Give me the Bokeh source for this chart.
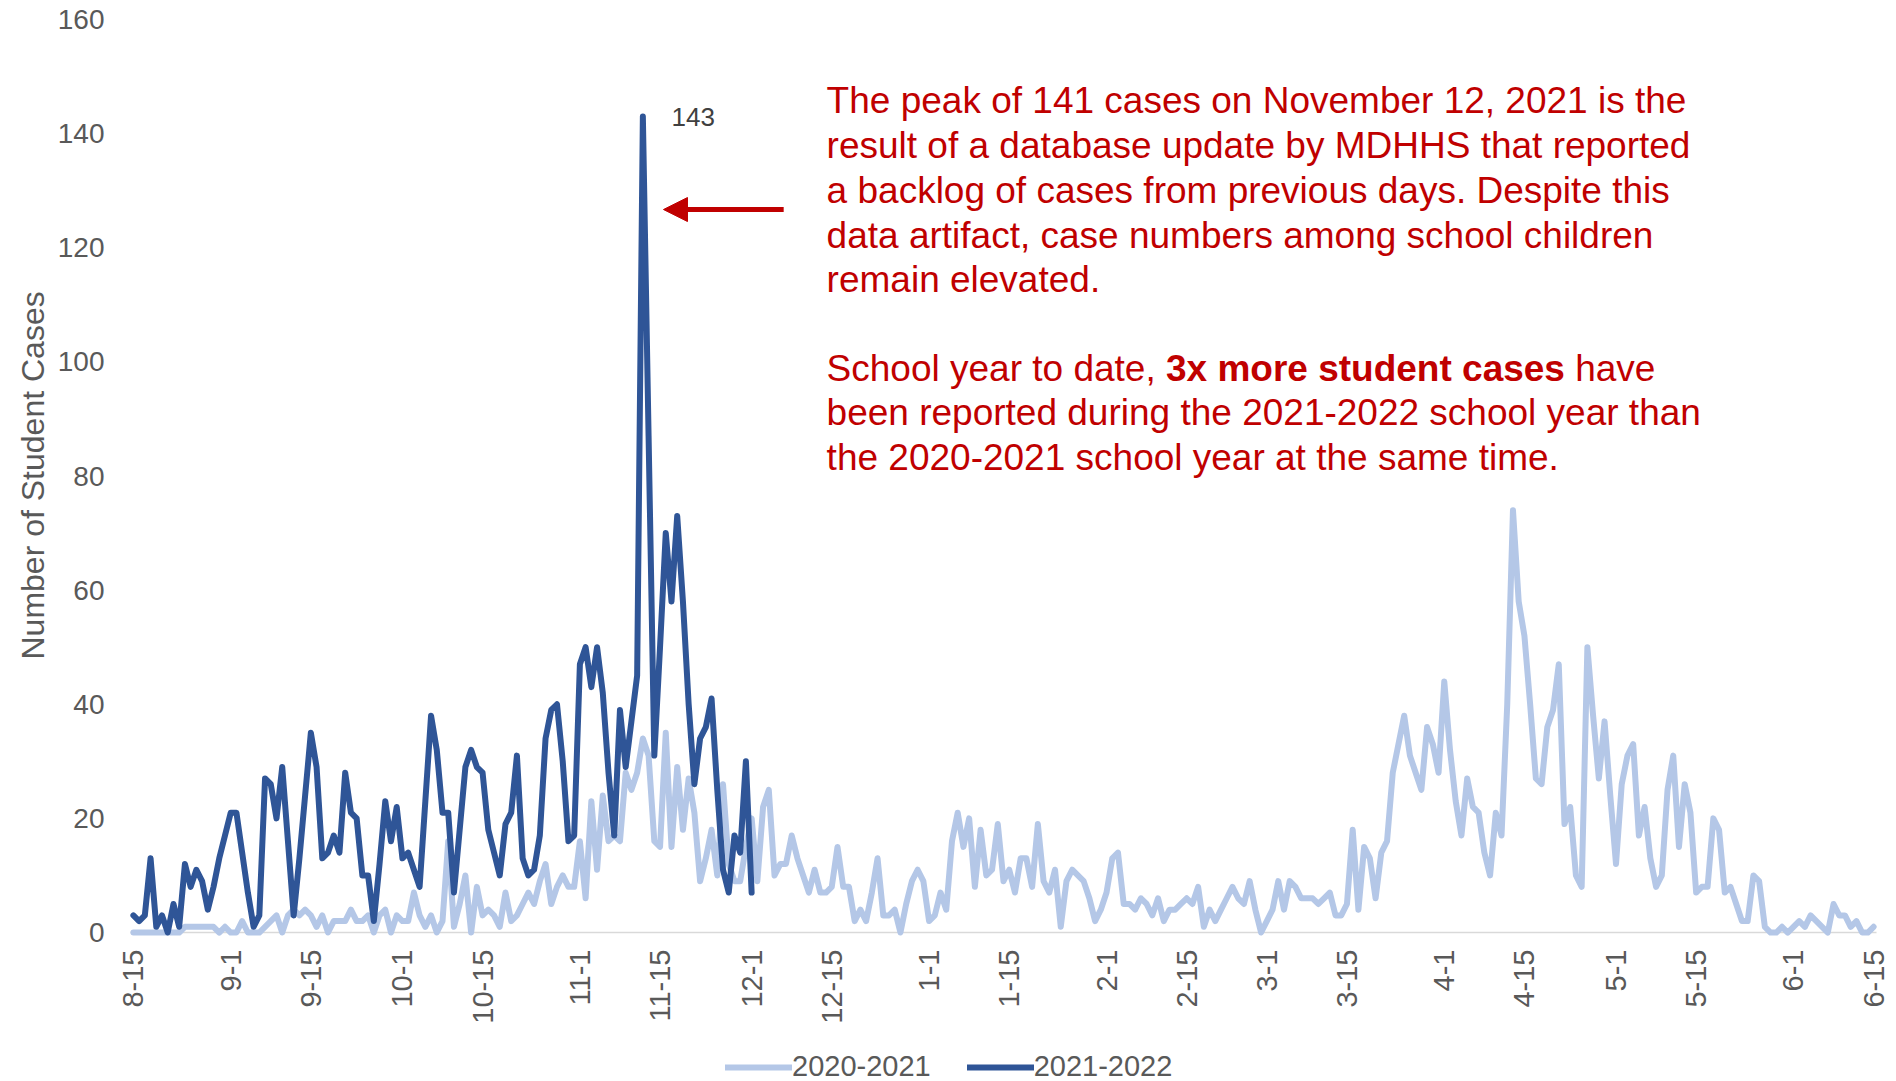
import math
from bokeh.plotting import figure
from bokeh.models import (Range1d, FixedTicker, Label, Arrow, NormalHead,
                          Legend, LegendItem, Title)
from bokeh.embed import file_html
from bokeh.resources import INLINE

# ---------------- data (daily student cases, day 0 = Aug 15) ----------------
cases_2020_21 = [
    0, 0, 0, 0, 0, 0, 0, 0, 0, 1,
    1, 1, 1, 1, 1, 0, 1, 0, 0, 2,
    0, 0, 0, 1, 2, 3, 0, 3, 4, 3,
    4, 3, 1, 3, 0, 2, 2, 2, 4, 2,
    2, 3, 0, 3, 4, 0, 3, 2, 2, 7,
    3, 1, 3, 0, 2, 16, 1, 5, 10, 0,
    8, 3, 4, 3, 1, 7, 2, 3, 5, 7,
    5, 9, 12, 5, 8, 10, 8, 8, 16, 6,
    23, 11, 24, 16, 17, 16, 28, 25, 28, 34,
    31, 16, 15, 35, 15, 29, 18, 27, 21, 9,
    13, 18, 10, 26, 12, 9, 9, 15, 20, 9,
    22, 25, 10, 12, 12, 17, 13, 10, 7, 11,
    7, 7, 8, 15, 8, 8, 2, 4, 2, 7,
    13, 3, 3, 4, 0, 5, 9, 11, 9, 2,
    3, 7, 4, 16, 21, 15, 20, 8, 18, 10,
    11, 19, 9, 11, 7, 13, 13, 8, 19, 9,
    7, 11, 1, 9, 11, 10, 9, 6, 2, 4,
    7, 13, 14, 5, 5, 4, 6, 5, 3, 6,
    2, 4, 4, 5, 6, 5, 8, 1, 4, 2,
    4, 6, 8, 6, 5, 9, 4, 0, 2, 4,
    9, 4, 9, 8, 6, 6, 6, 5, 6, 7,
    3, 3, 5, 18, 4, 15, 13, 6, 14, 16,
    28, 33, 38, 31, 28, 25, 36, 33, 28, 44,
    32, 23, 17, 27, 22, 21, 14, 10, 21, 17,
    40, 74, 58, 52, 40, 27, 26, 36, 39, 47,
    19, 22, 10, 8, 50, 38, 27, 37, 24, 12,
    26, 31, 33, 17, 22, 13, 8, 10, 25, 31,
    15, 26, 21, 7, 8, 8, 20, 18, 7, 8,
    5, 2, 2, 10, 9, 1, 0, 0, 1, 0,
    1, 2, 1, 3, 2, 1, 0, 5, 3, 3,
    1, 2, 0, 0, 1,
]

cases_2021_22 = [
    3, 2, 3, 13, 1, 3, 0, 5, 1, 12,
    8, 11, 9, 4, 8, 13, 17, 21, 21, 14,
    7, 1, 3, 27, 26, 20, 29, 16, 3, 13,
    24, 35, 29, 13, 14, 17, 14, 28, 21, 20,
    10, 10, 2, 12, 23, 16, 22, 13, 14, 11,
    8, 23, 38, 32, 21, 21, 7, 18, 29, 32,
    29, 28, 18, 14, 10, 19, 21, 31, 13, 10,
    11, 17, 34, 39, 40, 30, 16, 17, 47, 50,
    43, 50, 42, 28, 17, 39, 29, 37, 45, 143,
    87, 31, 50, 70, 58, 73, 58, 40, 26, 34,
    36, 41, 25, 11, 7, 17, 14, 30, 7,
]

days_2020_21 = list(range(len(cases_2020_21)))
days_2021_22 = list(range(len(cases_2021_22)))

x_tick_days = [0, 17, 31, 47, 61, 78, 92, 108, 122, 139, 153,
               170, 184, 198, 212, 229, 243, 259, 273, 290, 304]
x_tick_labels = ["8-15", "9-1", "9-15", "10-1", "10-15", "11-1", "11-15",
                 "12-1", "12-15", "1-1", "1-15", "2-1", "2-15", "3-1", "3-15",
                 "4-1", "4-15", "5-1", "5-15", "6-1", "6-15"]
y_ticks = [0, 20, 40, 60, 80, 100, 120, 140, 160]

series_names = ["2020-2021", "2021-2022"]
peak_label = "143"
y_title = "Number of Student Cases"

# ---------------- figure ----------------
FONT = "Liberation Sans"
GRAY = "#595959"
RED = "#c00000"

# frame spans from the top margin down to the bottom of the canvas; the x axis
# is drawn at y = 0 inside it, so the legend can sit below the axis labels.
p = figure(width=1896, height=1081, output_backend="svg", toolbar_location=None,
           title=None,
           x_range=Range1d(-3.65, 308.0), y_range=Range1d(-26.11, 160),
           min_border_left=112, min_border_right=0,
           min_border_top=19, min_border_bottom=0)
p.outline_line_color = None
p.xgrid.visible = False
p.ygrid.visible = False
p.background_fill_color = "white"

# y axis
p.yaxis.ticker = FixedTicker(ticks=y_ticks)
p.yaxis.axis_line_color = None
p.yaxis.major_tick_line_color = None
p.yaxis.minor_tick_line_color = None
p.yaxis.major_label_text_font = FONT
p.yaxis.major_label_text_font_size = "28px"
p.yaxis.major_label_text_color = GRAY
p.yaxis.major_label_standoff = 2

p.add_layout(Title(text=y_title, align="left", offset=422, text_font=FONT,
                   text_font_size="32px", text_font_style="normal",
                   text_color=GRAY, standoff=8), "left")

# x axis, fixed at y = 0, its line is the light baseline
p.xaxis.fixed_location = 0
p.xaxis.bounds = (-0.5, 304.5)
p.xaxis.level = "underlay"
p.xaxis.ticker = FixedTicker(ticks=x_tick_days)
p.xaxis.major_label_overrides = {d: l for d, l in zip(x_tick_days, x_tick_labels)}
p.xaxis.major_label_orientation = math.pi / 2
p.xaxis.axis_line_color = "#d9d9d9"
p.xaxis.axis_line_width = 1.5
p.xaxis.major_tick_line_color = None
p.xaxis.minor_tick_line_color = None
p.xaxis.major_label_text_font = FONT
p.xaxis.major_label_text_font_size = "29px"
p.xaxis.major_label_text_color = GRAY
p.xaxis.major_label_standoff = 11

# series
r1 = p.line(days_2020_21, cases_2020_21, line_color="#b4c7e7", line_width=6,
            line_join="round", line_cap="round")
r2 = p.line(days_2021_22, cases_2021_22, line_color="#2f5597", line_width=6,
            line_join="round", line_cap="round")

# peak label
p.add_layout(Label(x=94.0, y=143, text=peak_label, text_font=FONT,
                   text_font_size="26px", text_color="#404040",
                   text_baseline="middle", text_align="left"))

# arrow
p.add_layout(Arrow(end=NormalHead(size=24, fill_color=RED, line_color=RED),
                   x_start=113.6, y_start=126.7, x_end=92.6, y_end=126.7,
                   line_color=RED, line_width=5))

# annotation text
TX = 121.1
FS = 37
pxday = 1784 / 311.65
para1 = ["The peak of 141 cases on November 12, 2021 is the",
         "result of a database update by MDHHS that reported",
         "a backlog of cases from previous days. Despite this",
         "data artifact, case numbers among school children",
         "remain elevated."]
para1_y = [145.8, 138.0, 130.1, 122.2, 114.4]
for t, y in zip(para1, para1_y):
    p.add_layout(Label(x=TX, y=y, text=t, text_font=FONT, text_font_size=f"{FS}px",
                       text_color=RED, text_baseline="middle", text_align="left"))

# mixed-weight line
seg1 = "School year to date,"
seg2 = "3x more student cases"
seg3 = "have"
w1 = 9.172 * FS          # "School year to date, " (regular)
w2 = 10.782 * FS         # "3x more student cases" (bold)
wsp = 0.278 * FS         # space
p.add_layout(Label(x=TX, y=98.9, text=seg1, text_font=FONT, text_font_size=f"{FS}px",
                   text_color=RED, text_baseline="middle", text_align="left"))
p.add_layout(Label(x=TX + w1 / pxday, y=98.9, text=seg2, text_font=FONT,
                   text_font_size=f"{FS}px", text_font_style="bold",
                   text_color=RED, text_baseline="middle", text_align="left"))
p.add_layout(Label(x=TX + (w1 + w2 + wsp) / pxday, y=98.9, text=seg3, text_font=FONT,
                   text_font_size=f"{FS}px", text_color=RED,
                   text_baseline="middle", text_align="left"))
para2 = ["been reported during the 2021-2022 school year than",
         "the 2020-2021 school year at the same time."]
para2_y = [91.1, 83.2]
for t, y in zip(para2, para2_y):
    p.add_layout(Label(x=TX, y=y, text=t, text_font=FONT, text_font_size=f"{FS}px",
                       text_color=RED, text_baseline="middle", text_align="left"))

# legend at the bottom of the frame
legend = Legend(items=[LegendItem(label=series_names[0], renderers=[r1]),
                       LegendItem(label=series_names[1], renderers=[r2])],
                orientation="horizontal", location=(613, -2),
                label_text_font=FONT, label_text_font_size="29px",
                label_text_color=GRAY, glyph_width=67, glyph_height=28,
                label_height=28, label_standoff=0, spacing=36, padding=0,
                margin=0, border_line_color=None, background_fill_alpha=0)
p.add_layout(legend, "center")

open("out.html", "w").write(file_html(p, INLINE))
